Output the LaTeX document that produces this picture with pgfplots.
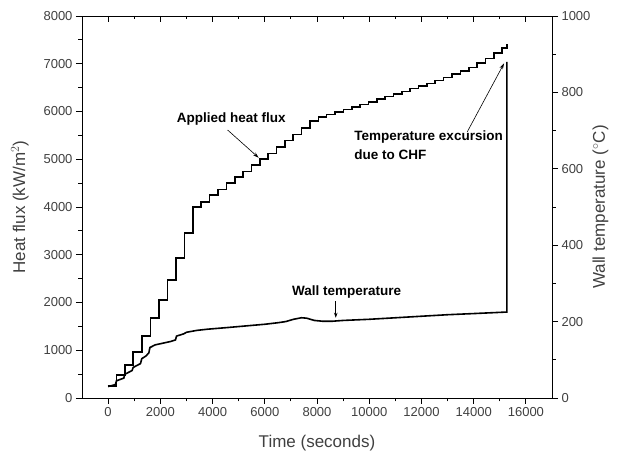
\documentclass[border=0pt]{standalone}
\usepackage{pgfplots}
\pgfplotsset{compat=1.18}
\usepackage{pgfplotstable}
\usepackage{fontspec}
\setmainfont{Liberation Sans}
\usetikzlibrary{arrows.meta}

% Applied heat flux (kW/m^2), stepwise increments
\pgfplotstableread{
t q
0 250
320 480
650 690
960 960
1290 1300
1620 1670
1960 2050
2280 2470
2600 2930
2920 3450
3240 4000
3560 4110
3890 4250
4210 4370
4530 4500
4850 4630
5170 4740
5490 4880
5810 5000
6130 5120
6450 5260
6770 5390
7090 5520
7410 5650
7730 5800
8050 5880
8370 5940
8690 5990
9010 6040
9330 6090
9650 6150
9970 6200
10290 6260
10610 6310
10930 6370
11250 6420
11570 6480
11890 6530
12210 6590
12530 6650
12850 6710
13170 6780
13490 6850
13810 6920
14130 7020
14450 7110
14770 7220
15090 7330
15270 7410
}\heatflux

% Wall temperature (deg C)
\pgfplotstableread{
t T
0 30
280 35
320 45
600 52
640 62
920 72
960 80
1240 90
1290 103
1450 110
1560 118
1600 132
1800 139
2200 145
2400 148
2580 152
2620 162
2900 168
3000 172
3400 177
3800 180
4500 184
5000 187
5500 190
6000 193
6500 197
6800 200
7100 206
7400 210
7600 209
7900 203
8200 201
8600 201
9000 203
10000 206
11000 210
12000 214
13000 218
14000 221
15270 225
15270 880
}\walltemp

\definecolor{ticktext}{gray}{0.25}

\tikzset{note/.style={font=\bfseries\fontsize{13.5}{13.5}\selectfont}}

\pgfplotsset{
  frame/.style={
    scale only axis, width=470pt, height=382pt,
    xmin=-1000, xmax=17000,
    scaled x ticks=false, scaled y ticks=false,
    major tick length=6pt, minor tick length=3.5pt,
    every tick/.style={black, line width=0.8pt},
    axis line style={black, line width=0.9pt},
    tick label style={font=\fontsize{13}{13}\selectfont, text=ticktext},
    label style={font=\fontsize{17}{17}\selectfont, text=ticktext},
    /pgf/number format/assume math mode=true,
    /pgf/number format/1000 sep={},
  },
}

\begin{document}
\begin{tikzpicture}
% heat flux on the left axis
\begin{axis}[frame, name=main,
  ymin=0, ymax=8000,
  axis x line*=bottom, axis y line*=left,
  tick align=outside,
  xtick={0,2000,...,16000}, minor x tick num=1,
  ytick={0,1000,...,8000}, minor y tick num=1,
  xlabel={Time (seconds)},
  ylabel={Heat flux (kW/m$^2$)},
  xlabel style={at={(axis description cs:0.5,-0.118)}, anchor=center},
  ylabel style={at={(axis description cs:-0.132,0.5)}, anchor=center},
  clip=false,
]
\addplot[const plot mark left, black, line width=1.6pt] table[x=t, y=q] {\heatflux};

\node[note] at (axis cs:4718,5843) {Applied heat flux};
\draw[line width=0.6pt, -{Stealth[length=6pt,width=3.5pt]}] (axis cs:4577,5612) -- (axis cs:5769,5030);

\node[note] at (axis cs:9135,2226) {Wall temperature};
\draw[line width=0.8pt, -{Stealth[length=5pt,width=3.5pt]}] (axis cs:8719,2030) -- (axis cs:8719,1680);

\node[note, anchor=west] at (axis cs:9300,5465) {Temperature excursion};
\node[note, anchor=west] at (axis cs:9300,5088) {due to CHF};
\draw[line width=0.6pt, -{Stealth[length=6pt,width=3.5pt]}] (axis cs:13758,5577) -- (axis cs:15165,7009);
\end{axis}

% wall temperature on the right axis
\begin{axis}[frame,
  ymin=0, ymax=1000,
  axis x line=none, axis y line*=right,
  tick align=outside,
  ytick={0,200,...,1000}, minor y tick num=1,
  ylabel={Wall temperature ($^{\circ}$C)},
  ylabel style={at={(axis description cs:1.103,0.5)}, anchor=center},
]
\addplot[black, line width=1.6pt] table[x=t, y=T] {\walltemp};
\end{axis}

% top frame line with inward ticks
\begin{axis}[frame,
  ymin=0, ymax=1,
  axis x line*=top, axis y line=none,
  tick align=inside,
  xtick={0,2000,...,16000}, minor x tick num=1,
  xticklabels={},
]
\end{axis}

\path ([shift={(-82pt,-54pt)}]main.south west) rectangle ([shift={(66pt,16pt)}]main.north east);
\end{tikzpicture}
\end{document}
